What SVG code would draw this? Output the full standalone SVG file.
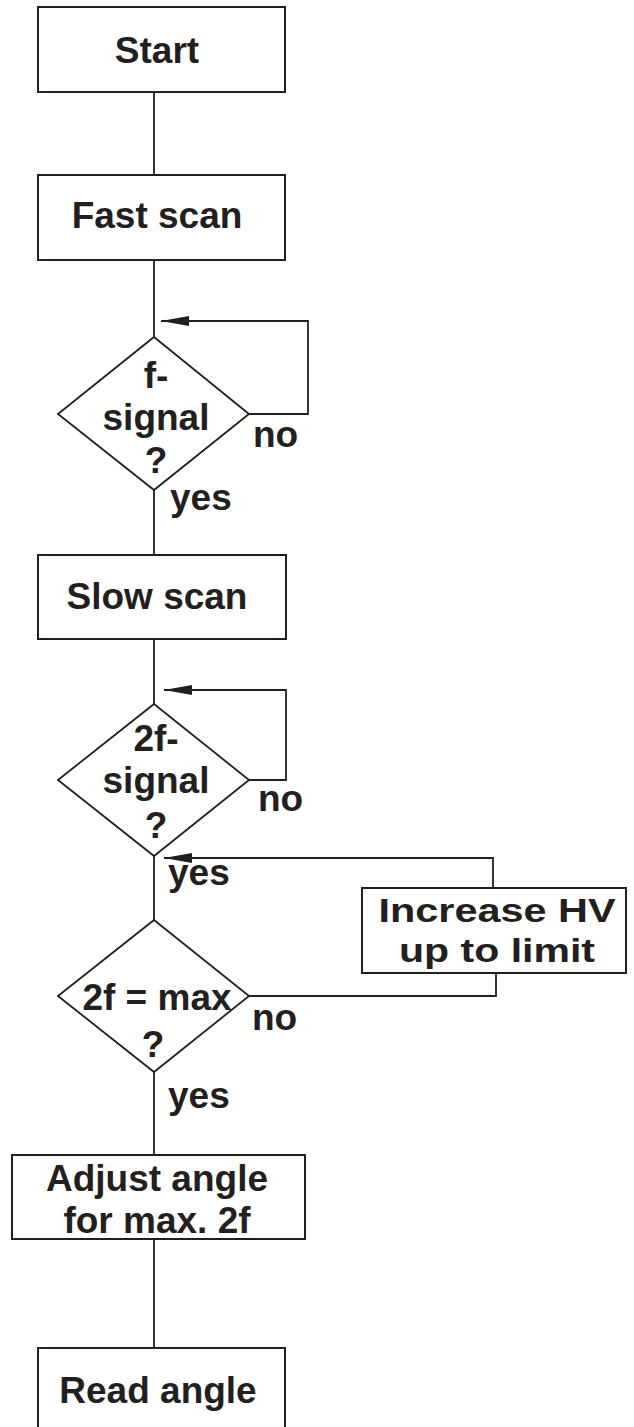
<svg xmlns="http://www.w3.org/2000/svg" width="634" height="1427" viewBox="0 0 634 1427">
<style>
.box{fill:#fff;stroke:#231f20;stroke-width:2}
.dia{fill:#fff;stroke:#231f20;stroke-width:1.8}
.ln{fill:none;stroke:#231f20;stroke-width:1.8}
.t{font-family:"Liberation Sans",Arial,sans-serif;font-weight:bold;font-size:37px;fill:#231f20;text-anchor:middle}
.hv{font-size:34px}
.lab{font-family:"Liberation Sans",Arial,sans-serif;font-weight:bold;font-size:37px;fill:#231f20}
</style>
<defs>
<marker id="arr" markerUnits="userSpaceOnUse" markerWidth="28" markerHeight="10" refX="28" refY="5" orient="auto">
<path d="M0,0 L28,5 L0,10 z" fill="#231f20"/>
</marker>
</defs>
<rect width="634" height="1427" fill="#fff"/>
<g id="connectors">
<path class="ln" d="M154,92 V175"/>
<path class="ln" d="M154,260 V337"/>
<path class="ln" d="M249,414 H308 V321 H161" marker-end="url(#arr)"/>
<path class="ln" d="M154,490 V555"/>
<path class="ln" d="M154,639 V704"/>
<path class="ln" d="M249,780 H286 V690 H164" marker-end="url(#arr)"/>
<path class="ln" d="M154,856 V920"/>
<path class="ln" d="M493,888 V858 H164" marker-end="url(#arr)"/>
<path class="ln" d="M249,996 H496 V973"/>
<path class="ln" d="M154,1072 V1155"/>
<path class="ln" d="M154,1239 V1348"/>
<text class="lab" x="253" y="447">no</text>
<text class="lab" x="170" y="510">yes</text>
<text class="lab" x="258" y="811">no</text>
<text class="lab" x="168" y="885">yes</text>
<text class="lab" x="252" y="1030">no</text>
<text class="lab" x="168" y="1108">yes</text>
</g>
<g id="start">
<rect class="box" x="38" y="7" width="247" height="85"/>
<text class="t" x="157" y="63">Start</text>
</g>
<g id="fastscan">
<rect class="box" x="38" y="175" width="247" height="85"/>
<text class="t" x="157" y="228">Fast scan</text>
</g>
<g id="fsignal">
<polygon class="dia" points="154,337 249,414 154,490 58,414"/>
<text class="t" x="156" y="388">f-</text>
<text class="t" x="156" y="430">signal</text>
<text class="t" x="156" y="473">?</text>
</g>
<g id="slowscan">
<rect class="box" x="38" y="555" width="248" height="84"/>
<text class="t" x="157" y="609">Slow scan</text>
</g>
<g id="2fsignal">
<polygon class="dia" points="154,704 249,780 154,856 58,780"/>
<text class="t" x="156" y="751">2f-</text>
<text class="t" x="156" y="793">signal</text>
<text class="t" x="156" y="838">?</text>
</g>
<g id="increasehv">
<rect class="box" x="362" y="888" width="264" height="85"/>
<text class="t hv" x="497" y="922" textLength="237" lengthAdjust="spacingAndGlyphs">Increase HV</text>
<text class="t hv" x="497" y="962" textLength="196" lengthAdjust="spacingAndGlyphs">up to limit</text>
</g>
<g id="2fmax">
<polygon class="dia" points="154,920 249,996 154,1072 58,996"/>
<text class="t" x="157" y="1010">2f = max</text>
<text class="t" x="153" y="1057">?</text>
</g>
<g id="adjust">
<rect class="box" x="12" y="1155" width="293" height="84"/>
<text class="t" x="157" y="1191">Adjust angle</text>
<text class="t" x="157" y="1233">for max. 2f</text>
</g>
<g id="readangle">
<rect class="box" x="38" y="1348" width="247" height="90"/>
<text class="t" x="158" y="1403">Read angle</text>
</g>
</svg>
